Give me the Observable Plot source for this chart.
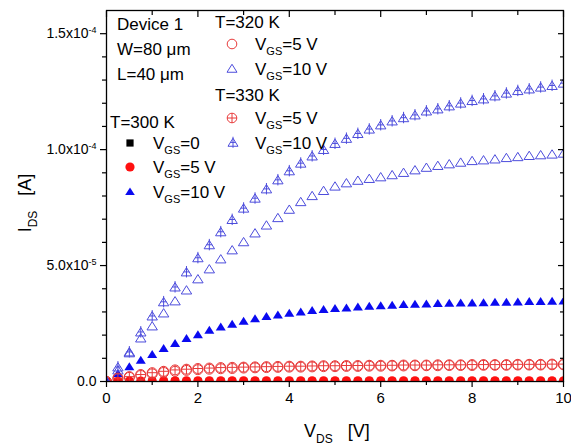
<!DOCTYPE html>
<html><head><meta charset="utf-8">
<script src="https://cdn.jsdelivr.net/npm/d3@7"></script>
<script src="https://cdn.jsdelivr.net/npm/@observablehq/plot@0.6"></script>
<style>
body{margin:0;background:#fff}
svg{font-family:"Liberation Sans",Arial,sans-serif}
</style>
</head><body><div id="chart"></div>
<script>
// V_DS values (V)
const vds = [0,0.25,0.5,0.75,1,1.25,1.5,1.75,2,2.25,2.5,2.75,3,3.25,3.5,3.75,4,4.25,4.5,4.75,5,5.25,5.5,5.75,6,6.25,6.5,6.75,7,7.25,7.5,7.75,8,8.25,8.5,8.75,9,9.25,9.5,9.75,10];
// I_DS values in units of 1e-6 A
const t300_vgs0 = [0,0,0,0,0,0,0,0,0,0,0,0,0,0,0,0,0,0,0,0,0,0,0,0,0,0,0,0,0,0,0,0,0,0,0,0,0,0,0,0,0];
const t300_vgs5 = [0,0.1,0.2,0.2,0.2,0.3,0.3,0.3,0.3,0.3,0.3,0.3,0.3,0.3,0.3,0.3,0.3,0.3,0.3,0.3,0.3,0.3,0.3,0.3,0.3,0.3,0.3,0.3,0.3,0.3,0.3,0.3,0.3,0.3,0.3,0.3,0.3,0.3,0.3,0.3,0.3];
const t300_vgs10 = [0,3.3,6.2,9.1,11.5,14.1,16.3,18.4,20.1,22.0,23.4,24.6,25.9,27.0,27.9,28.6,29.3,29.9,30.5,30.9,31.4,31.6,32.0,32.3,32.6,32.8,33.1,33.2,33.3,33.5,33.6,33.8,33.8,33.9,34.1,34.1,34.2,34.4,34.4,34.5,34.6];
const t320_vgs5 = [0,1.2,1.8,2.6,3.3,3.9,4.4,4.8,5.1,5.3,5.5,5.6,5.8,5.9,6.0,6.1,6.2,6.2,6.3,6.4,6.4,6.5,6.5,6.6,6.6,6.7,6.7,6.8,6.8,6.8,6.9,6.9,6.9,7.0,7.0,7.0,7.1,7.1,7.1,7.2,7.2];
const t320_vgs10 = [0,4.7,12.1,18.5,23.7,29.3,34.5,39.2,44.0,48.3,52.6,56.5,60.0,63.8,67.2,70.4,74.0,77.3,79.9,82.1,84.0,85.4,86.5,87.3,88.0,88.9,89.9,91.0,92.1,92.9,93.6,94.3,95.0,95.3,95.7,96.3,96.7,97.2,97.5,97.8,98.2];
const t330_vgs5 = [0,1.5,2.1,3.0,3.8,4.4,5.0,5.3,5.6,5.8,6.0,6.1,6.2,6.3,6.4,6.5,6.6,6.6,6.7,6.8,6.8,6.9,6.9,7.0,7.0,7.0,7.1,7.1,7.1,7.2,7.2,7.2,7.3,7.3,7.3,7.3,7.4,7.4,7.4,7.5,7.5];
const t330_vgs10 = [0,6.0,12.5,21.1,28.0,34.1,40.5,47.0,53.1,58.7,64.3,69.6,74.5,78.8,82.8,86.7,90.6,93.9,97.0,99.8,102.4,104.6,106.7,108.6,110.4,112.1,113.5,114.7,116.4,117.3,118.6,119.8,120.9,121.6,122.9,124.1,125.2,125.9,126.7,127.4,128.4];

const xMajor = [0,2,4,6,8,10];
const xMinor = [1,3,5,7,9];
const yMajor = [0,5e-5,1e-4,1.5e-4];
const yMinor = [1e-5,2e-5,3e-5,4e-5,6e-5,7e-5,8e-5,9e-5,1.1e-4,1.2e-4,1.3e-4,1.4e-4];
const yTickLabels = ["0.0","5.0x10|-5","1.0x10|-4","1.5x10|-4"];

const rows = (ys) => vds.map((v, i) => ({v, i: ys[i] * 1e-6}));

// custom symbols (size = pi r^2)
const R = s => Math.sqrt(s / Math.PI);
const triPath = (ctx, r) => { ctx.moveTo(0, -0.95*r); ctx.lineTo(r, 0.65*r); ctx.lineTo(-r, 0.65*r); ctx.closePath(); };
const symTri = {draw(ctx, s){ triPath(ctx, R(s)); }};
const symTriX = {draw(ctx, s){ const r = R(s); triPath(ctx, r);
  ctx.moveTo(0, -1.25*r); ctx.lineTo(0, 0.95*r);
  ctx.moveTo(-0.55*r, -0.12*r); ctx.lineTo(0.55*r, -0.12*r); }};
const symCirc = {draw(ctx, s){ const r = R(s); ctx.moveTo(r, 0); ctx.arc(0, 0, r, 0, 2*Math.PI); }};
const symCircX = {draw(ctx, s){ const r = R(s); ctx.moveTo(r, 0); ctx.arc(0, 0, r, 0, 2*Math.PI);
  ctx.moveTo(-r, 0); ctx.lineTo(r, 0); ctx.moveTo(0, -r); ctx.lineTo(0, r); }};
const symSq = {draw(ctx, s){ const r = R(s); ctx.rect(-r, -r, 2*r, 2*r); }};

const blue = "#0a0af0", lblue = "#4c4cdc", red = "#ff1010", lred = "#e83a3a";

const plot = Plot.plot({
  width: 571, height: 446,
  marginLeft: 106, marginRight: 8, marginTop: 10, marginBottom: 65,
  x: {domain: [0, 10]},
  y: {domain: [0, 1.6e-4]},
  style: {fontFamily: '"Liberation Sans", Arial, sans-serif', background: "#fff"},
  marks: [
    Plot.dot(rows(t300_vgs0), {x: "v", y: "i", symbol: symSq, r: 3.6, fill: "#000", stroke: "none", clip: true}),
    Plot.dot(rows(t300_vgs5), {x: "v", y: "i", symbol: symCirc, r: 4.6, fill: red, stroke: "none", clip: true}),
    Plot.dot(rows(t300_vgs10), {x: "v", y: "i", symbol: symTri, r: 5, fill: blue, stroke: "none", clip: true}),
    Plot.dot(rows(t320_vgs5), {x: "v", y: "i", symbol: symCirc, r: 5, fill: "none", stroke: lred, strokeWidth: 1, clip: true}),
    Plot.dot(rows(t320_vgs10), {x: "v", y: "i", symbol: symTri, r: 5.2, fill: "none", stroke: lblue, strokeWidth: 1, clip: true}),
    Plot.dot(rows(t330_vgs5), {x: "v", y: "i", symbol: symCircX, r: 5, fill: "none", stroke: lred, strokeWidth: 1, clip: true}),
    Plot.dot(rows(t330_vgs10), {x: "v", y: "i", symbol: symTriX, r: 5.2, fill: "none", stroke: lblue, strokeWidth: 1, clip: true}),
    Plot.frame({stroke: "#000", strokeWidth: 1.3}),
    Plot.axisX({ticks: xMajor, tickSize: 6, tickPadding: 5, fontSize: 15, label: null, strokeWidth: 1.2, tickFormat: d => String(d)}),
    Plot.axisX({ticks: xMinor, tickSize: 4, label: null, strokeWidth: 1.2, tickFormat: () => ""}),
    Plot.axisX({anchor: "top", ticks: xMajor, tickSize: 6, dy: 6, label: null, strokeWidth: 1.2, tickFormat: () => ""}),
    Plot.axisX({anchor: "top", ticks: xMinor, tickSize: 4, dy: 4, label: null, strokeWidth: 1.2, tickFormat: () => ""}),
    Plot.axisY({ticks: yMajor, tickSize: 6, tickPadding: 4, fontSize: 14, label: null, strokeWidth: 1.2,
      tickFormat: d => yTickLabels[yMajor.indexOf(d)]}),
    Plot.axisY({ticks: yMinor, tickSize: 4, label: null, strokeWidth: 1.2, tickFormat: () => ""}),
    Plot.axisY({anchor: "right", ticks: yMajor, tickSize: 6, dx: -6, label: null, strokeWidth: 1.2, tickFormat: () => ""}),
    Plot.axisY({anchor: "right", ticks: yMinor, tickSize: 4, dx: -4, label: null, strokeWidth: 1.2, tickFormat: () => ""})
  ]
});
document.getElementById("chart").appendChild(plot);

const svg = d3.select(plot);
// superscripts in y tick labels
svg.selectAll("text").each(function() {
  const t = d3.select(this);
  const s = t.text();
  if (s.includes("|")) {
    const [m, e] = s.split("|");
    t.text(null);
    t.append("tspan").text(m);
    t.append("tspan").attr("dy", "-0.55em").attr("font-size", 9).text(e);
  }
});

const g = svg.append("g").attr("fill", "#000").attr("text-anchor", "start")
  .style("font-family", '"Liberation Sans", Arial, sans-serif');
function label(x, y, main, sub, rest, size, subSize) {
  const t = g.append("text").attr("x", x).attr("y", y).attr("font-size", size).attr("text-anchor", "start");
  t.append("tspan").text(main);
  if (sub) {
    t.append("tspan").attr("dy", size * 0.32).attr("font-size", subSize).text(sub);
    t.append("tspan").attr("dy", -size * 0.32).text(rest);
  }
  return t;
}
function symbolPath(sym, r, x, y, fill, stroke) {
  const p = d3.path();
  sym.draw(p, Math.PI * r * r);
  g.append("path").attr("d", p.toString()).attr("transform", `translate(${x},${y})`)
    .attr("fill", fill).attr("stroke", stroke).attr("stroke-width", 1);
}
// Device info
label(117, 30, "Device 1", null, null, 17);
label(117, 55, "W=80 \u03bcm", null, null, 17);
label(117, 80, "L=40 \u03bcm", null, null, 17);
// T=320 K
label(215, 28, "T=320 K", null, null, 17);
symbolPath(symCirc, 4.8, 232, 44, "none", lred);
label(255, 50, "V", "GS", "=5 V", 17, 11);
symbolPath(symTri, 5, 232, 69, "none", lblue);
label(255, 75, "V", "GS", "=10 V", 17, 11);
// T=330 K
label(215, 101, "T=330 K", null, null, 17);
symbolPath(symCircX, 4.8, 232, 118, "none", lred);
label(255, 124, "V", "GS", "=5 V", 17, 11);
symbolPath(symTriX, 5, 233, 143, "none", lblue);
label(255, 149, "V", "GS", "=10 V", 17, 11);
// T=300 K
label(110, 128, "T=300 K", null, null, 17);
symbolPath(symSq, 3.6, 130, 143, "#000", "none");
label(153, 149, "V", "GS", "=0", 17, 11);
symbolPath(symCirc, 4.6, 130, 167, red, "none");
label(153, 173, "V", "GS", "=5 V", 17, 11);
symbolPath(symTri, 4.8, 130, 192, blue, "none");
label(153, 198, "V", "GS", "=10 V", 17, 11);

// axis titles
const xt = label(304, 437, "V", "DS", "   [V]", 18, 12);
xt.style("white-space", "pre");
const yt = g.append("text").attr("transform", "translate(31,203) rotate(-90)").attr("text-anchor", "middle")
  .attr("font-size", 18).style("white-space", "pre");
yt.append("tspan").text("I");
yt.append("tspan").attr("dy", 5.8).attr("font-size", 12).text("DS");
yt.append("tspan").attr("dy", -5.8).text("   [A]");
</script>
</body></html>
